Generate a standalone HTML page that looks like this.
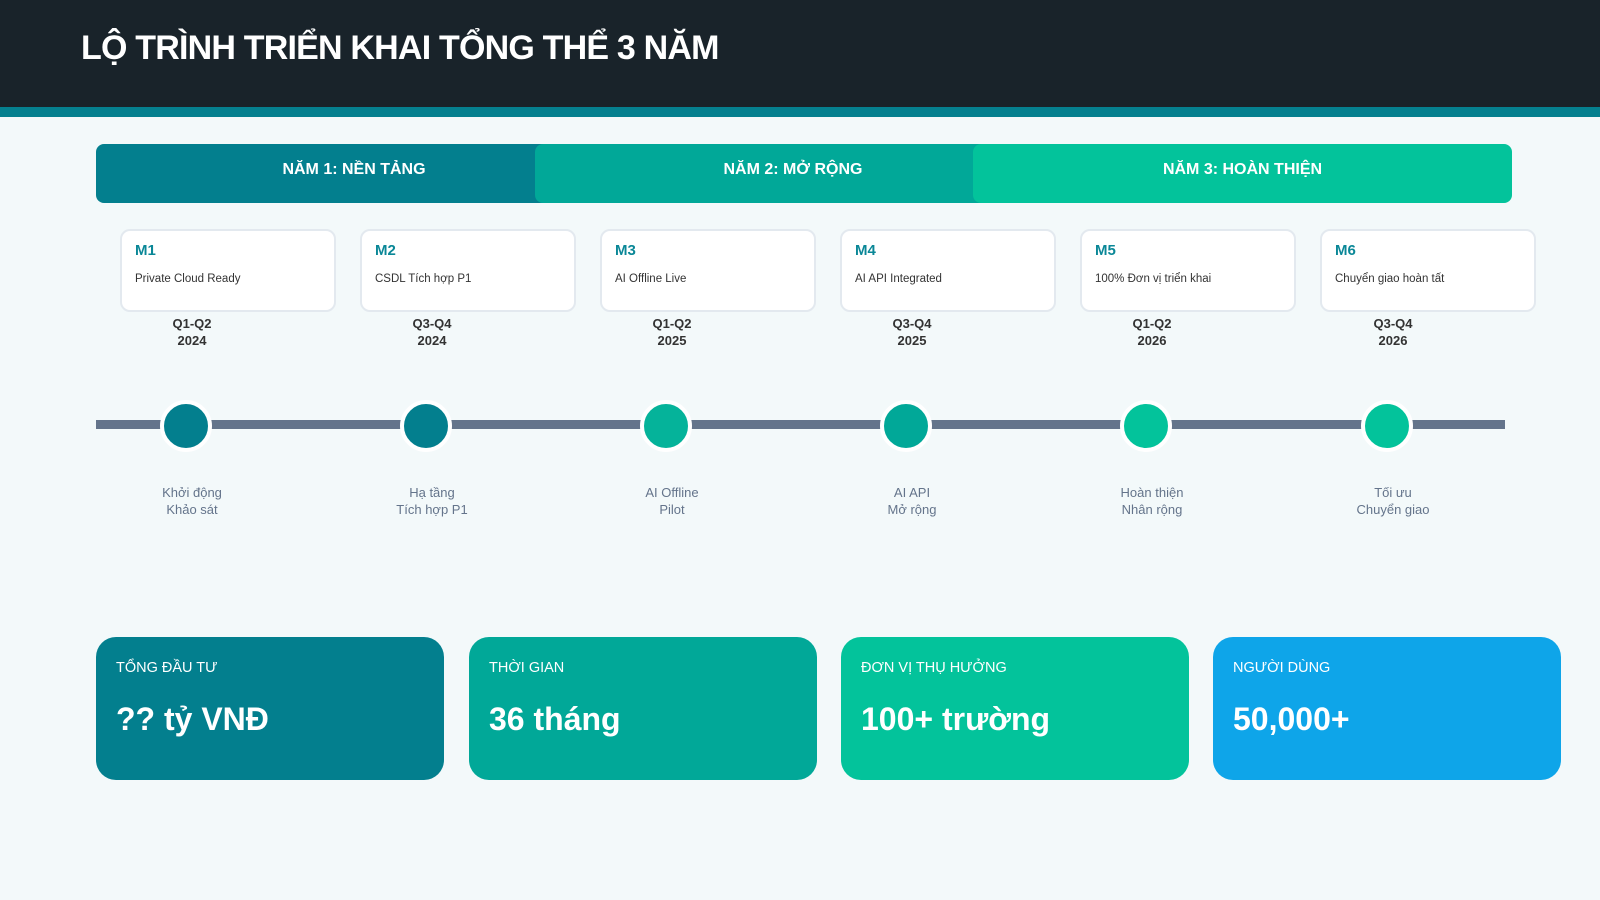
<!DOCTYPE html>
<html><head><meta charset="utf-8"><style>
*{margin:0;padding:0;box-sizing:border-box}
body{width:1600px;height:900px;background:#f3f9fa;font-family:"Liberation Sans","DejaVu Sans",sans-serif;position:relative;overflow:hidden}
.a{position:absolute}
.hdr{left:0;top:0;width:1600px;height:107px;background:#19232a}
.str{left:0;top:107px;width:1600px;height:10px;background:#05808f}
.title{left:81px;top:29px;font-size:34px;font-weight:bold;color:#fff;letter-spacing:-0.8px}
.seg{top:144px;height:59px;border-radius:8px;color:#fff;font-weight:bold;font-size:16px;display:flex;align-items:center;justify-content:center;padding-bottom:7px}
.card{top:229px;width:216px;height:83px;background:#fff;border:2px solid #e3e9ef;border-radius:10px}
.card b{position:absolute;left:13px;top:11px;font-size:15px;color:#0a8797}
.card span{position:absolute;left:13px;top:42px;font-size:11.5px;color:#333}
.q{top:315px;width:120px;margin-left:-60px;text-align:center;font-size:13px;font-weight:bold;color:#333;line-height:17px}
.line{left:96px;top:420px;width:1409px;height:9px;background:#64748b}
.dot{top:400px;width:52px;height:52px;margin-left:-26px;border-radius:50%;border:4px solid #fff}
.ph{top:484px;width:140px;margin-left:-70px;text-align:center;font-size:13px;color:#64748b;line-height:17px}
.st{top:637px;width:348px;height:143px;border-radius:20px;color:#fff}
.st i{font-style:normal;position:absolute;left:20px;top:23px;font-size:14.5px}
.st b{position:absolute;left:20px;top:64px;font-size:32px}
</style></head><body>
<div class="a hdr"></div><div class="a str"></div>
<div class="a title">LỘ TRÌNH TRIỂN KHAI TỔNG THỂ 3 NĂM</div>
<div class="a seg" style="left:96px;width:516px;background:#037f8e">NĂM 1: NỀN TẢNG</div>
<div class="a seg" style="left:535px;width:516px;background:#01a898">NĂM 2: MỞ RỘNG</div>
<div class="a seg" style="left:973px;width:539px;background:#03c39b">NĂM 3: HOÀN THIỆN</div>

<div class="a card" style="left:120px"><b>M1</b><span>Private Cloud Ready</span></div>
<div class="a card" style="left:360px"><b>M2</b><span>CSDL Tích hợp P1</span></div>
<div class="a card" style="left:600px"><b>M3</b><span>AI Offline Live</span></div>
<div class="a card" style="left:840px"><b>M4</b><span>AI API Integrated</span></div>
<div class="a card" style="left:1080px"><b>M5</b><span>100% Đơn vị triển khai</span></div>
<div class="a card" style="left:1320px"><b>M6</b><span>Chuyển giao hoàn tất</span></div>

<div class="a q" style="left:192px">Q1-Q2<br>2024</div>
<div class="a q" style="left:432px">Q3-Q4<br>2024</div>
<div class="a q" style="left:672px">Q1-Q2<br>2025</div>
<div class="a q" style="left:912px">Q3-Q4<br>2025</div>
<div class="a q" style="left:1152px">Q1-Q2<br>2026</div>
<div class="a q" style="left:1393px">Q3-Q4<br>2026</div>

<div class="a line"></div>
<div class="a dot" style="left:186px;background:#037f8e"></div>
<div class="a dot" style="left:426px;background:#037f8e"></div>
<div class="a dot" style="left:666px;background:#05b39a"></div>
<div class="a dot" style="left:906px;background:#01a898"></div>
<div class="a dot" style="left:1146px;background:#03c39b"></div>
<div class="a dot" style="left:1387px;background:#03c39b"></div>

<div class="a ph" style="left:192px">Khởi động<br>Khảo sát</div>
<div class="a ph" style="left:432px">Hạ tầng<br>Tích hợp P1</div>
<div class="a ph" style="left:672px">AI Offline<br>Pilot</div>
<div class="a ph" style="left:912px">AI API<br>Mở rộng</div>
<div class="a ph" style="left:1152px">Hoàn thiện<br>Nhân rộng</div>
<div class="a ph" style="left:1393px">Tối ưu<br>Chuyển giao</div>

<div class="a st" style="left:96px;background:#037f8e"><i>TỔNG ĐẦU TƯ</i><b>?? tỷ VNĐ</b></div>
<div class="a st" style="left:469px;background:#01a898"><i>THỜI GIAN</i><b>36 tháng</b></div>
<div class="a st" style="left:841px;background:#03c39b"><i>ĐƠN VỊ THỤ HƯỞNG</i><b>100+ trường</b></div>
<div class="a st" style="left:1213px;background:#0ea5e9"><i>NGƯỜI DÙNG</i><b>50,000+</b></div>
</body></html>
